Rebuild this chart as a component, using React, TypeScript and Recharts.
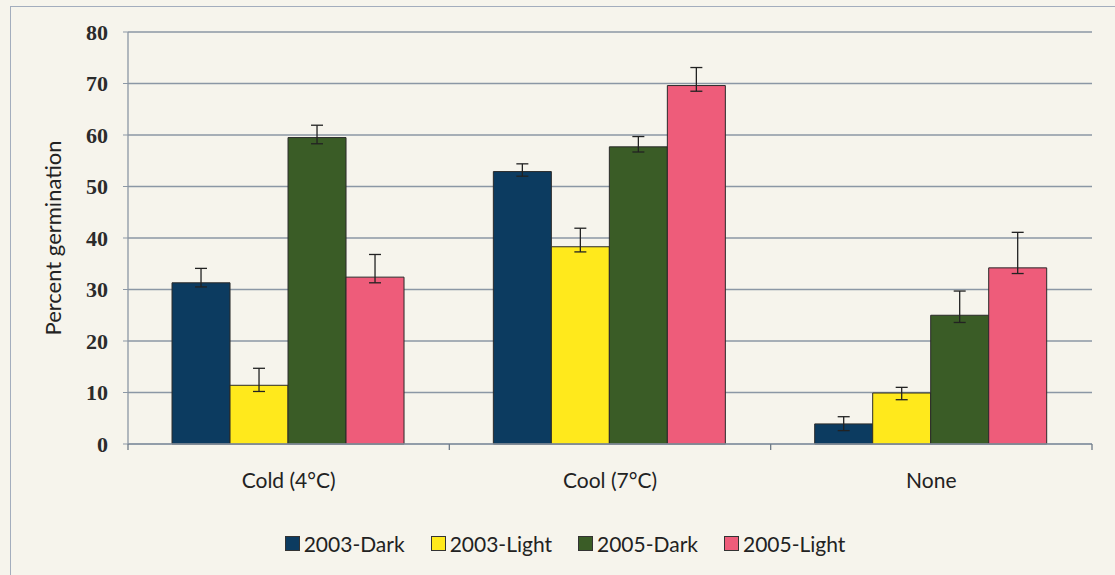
import { BarChart, Bar, XAxis, YAxis, CartesianGrid, Legend, ErrorBar } from 'recharts';

const categories = ['Cold (4°C)', 'Cool (7°C)', 'None'];
const seriesNames = ['2003-Dark', '2003-Light', '2005-Dark', '2005-Light'];
const seriesColors = ['#0c3b60', '#ffe91c', '#3a5c26', '#ee5c7a'];

const dark2003 = [31.3, 52.9, 3.9];
const light2003 = [11.4, 38.3, 9.9];
const dark2005 = [59.5, 57.7, 25.0];
const light2005 = [32.4, 69.6, 34.2];

// [below, above] error amounts
const dark2003Err = [[0.8, 2.8], [0.9, 1.5], [1.3, 1.4]];
const light2003Err = [[1.2, 3.3], [1.0, 3.6], [1.3, 1.1]];
const dark2005Err = [[1.2, 2.4], [1.0, 2.0], [1.4, 4.7]];
const light2005Err = [[1.1, 4.4], [1.1, 3.5], [1.1, 6.9]];

const yTicks = [0, 10, 20, 30, 40, 50, 60, 70, 80];

const values = [dark2003, light2003, dark2005, light2005];
const errors = [dark2003Err, light2003Err, dark2005Err, light2005Err];

const data = categories.map((name, i) => {
  const row: Record<string, any> = { name };
  seriesNames.forEach((s, k) => {
    row[s] = values[k][i];
    row[s + '_err'] = errors[k][i];
  });
  return row;
});

const axisColor = '#8b97a5';
const sansFont = 'Lato, "Open Sans", sans-serif';

// category label plus Excel-style tick marks on the band edges
function CategoryTick({ x, y, payload, index, visibleTicksCount }: any) {
  const half = payload?.offset || 0;
  const last = index === visibleTicksCount - 1;
  return (
    <g>
      {half > 0 && <line x1={x - half} x2={x - half} y1={y} y2={y + 6} stroke="#6f7b88" strokeWidth={1.3} />}
      {half > 0 && last && <line x1={x + half} x2={x + half} y1={y} y2={y + 6} stroke="#6f7b88" strokeWidth={1.3} />}
      <text x={x} y={y + 29} dy="0.71em" textAnchor="middle" fontFamily={sansFont} fontSize={21} fill="#222">
        {payload.value}
      </text>
    </g>
  );
}

function LegendContent({ payload }: any) {
  return (
    <div
      style={{
        height: 30,
        display: 'flex',
        justifyContent: 'center',
        alignItems: 'center',
        paddingLeft: 64,
        fontFamily: sansFont,
        fontSize: 21,
        color: '#222',
      }}
    >
      {(payload || []).map((p: any) => (
        <div key={p.value} style={{ display: 'flex', alignItems: 'center', marginRight: 26 }}>
          <span
            style={{
              width: 13,
              height: 13,
              background: p.color,
              border: '1px solid #333',
              marginRight: 4,
              display: 'inline-block',
            }}
          />
          <span>{p.value}</span>
        </div>
      ))}
    </div>
  );
}

export default function App() {
  return (
    <div style={{ position: 'absolute', left: 0, top: 0, width: 1115, height: 575, background: '#f6f4ec', overflow: 'hidden' }}>
      <div
        style={{
          position: 'absolute',
          left: 10,
          top: 6,
          width: 1200,
          height: 700,
          borderLeft: '1.5px solid #a3adbd',
          borderTop: '1.5px solid #a3adbd',
        }}
      />
      <div style={{ position: 'absolute', left: 0, top: 0 }}>
        <BarChart
          width={1115}
          height={575}
          data={data}
          margin={{ top: 32, right: 23, left: 0, bottom: 17 }}
          barCategoryGap="13.7%"
          barGap={0}
        >
          <CartesianGrid vertical={false} stroke={axisColor} strokeWidth={1.3} />
          <XAxis
            dataKey="name"
            interval={0}
            tickLine={false}
            tickSize={0}
            tickMargin={0}
            height={84}
            axisLine={{ stroke: axisColor, strokeWidth: 1.3 }}
            tick={<CategoryTick />}
          />
          <YAxis
            width={128}
            domain={[0, 80]}
            ticks={yTicks}
            interval={0}
            tickSize={5}
            tickMargin={15}
            axisLine={{ stroke: axisColor, strokeWidth: 1.3 }}
            tickLine={{ stroke: axisColor }}
            tick={{ fontFamily: '"Liberation Serif", serif', fontWeight: 'bold', fontSize: 22, fill: '#2b2b2b' }}
            label={{
              content: ({ viewBox }: any) => {
                const cx = viewBox.x + 52;
                const cy = viewBox.y + viewBox.height / 2;
                return (
                  <text
                    x={cx}
                    y={cy}
                    transform={`rotate(-90 ${cx} ${cy})`}
                    textAnchor="middle"
                    dominantBaseline="central"
                    fontFamily={sansFont}
                    fontSize={22}
                    fill="#222"
                  >
                    Percent germination
                  </text>
                );
              },
            }}
          />
          <Legend verticalAlign="bottom" content={<LegendContent />} />
          {seriesNames.map((s, k) => (
            <Bar
              key={s}
              dataKey={s}
              fill={seriesColors[k]}
              stroke="#2a2a2a"
              strokeWidth={1}
              isAnimationActive={false}
            >
              <ErrorBar dataKey={s + '_err'} width={6} stroke="#222" strokeWidth={1.3} />
            </Bar>
          ))}
        </BarChart>
      </div>
    </div>
  );
}
